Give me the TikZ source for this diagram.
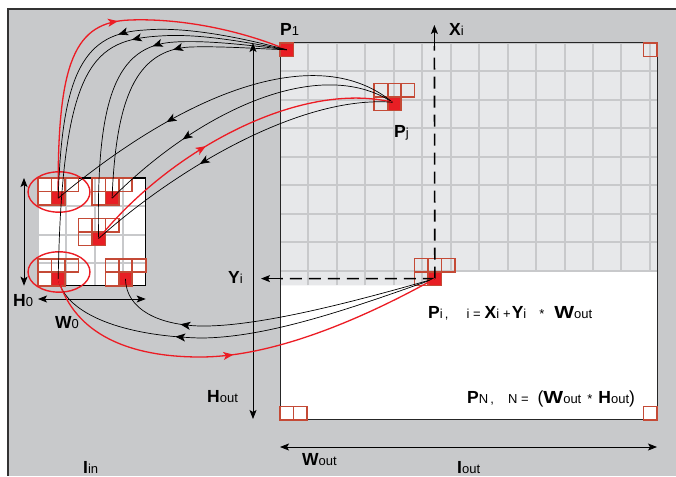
\documentclass[tikz,border=0pt]{standalone}
\usepackage{fontspec}
\setmainfont{Liberation Sans}
\usetikzlibrary{arrows.meta,decorations.markings}
\definecolor{bg}{RGB}{200,201,203}
\definecolor{cellgray}{RGB}{231,232,234}
\definecolor{gridline}{RGB}{200,201,203}
\definecolor{pxred}{RGB}{232,30,36}
\definecolor{pxedge}{RGB}{196,74,54}
\definecolor{wirered}{RGB}{236,28,36}
\newcommand{\lbl}[2]{{\fontsize{17.5}{17.5}\selectfont\bfseries #1}{\fontsize{13}{13}\selectfont #2}}
\newcommand{\sm}[1]{{\fontsize{13}{13}\selectfont #1}}
\newcommand{\wideW}{\scalebox{1.2}[1]{W}}
\tikzset{
  wire/.style={line width=.7pt},
  redwire/.style={line width=1.3pt,color=wirered},
  midarr/.style={postaction={decorate,decoration={markings,
    mark=at position #1 with {\arrow{Stealth[length=10pt,width=8pt,inset=2.5pt]}}}}},
  dimarr/.style={line width=.8pt,{Stealth[length=9pt,width=7pt,inset=2pt]}-{Stealth[length=9pt,width=7pt,inset=2pt]}},
  dashline/.style={line width=1.6pt,dash pattern=on 12pt off 7pt},
  pxbox/.style={draw=pxedge,line width=1.6pt},
  pxfill/.style={fill=pxred,draw=pxedge,line width=1.6pt},
  lab/.style={anchor=base west,inner sep=0pt},
  cluster/.pic={
    \draw[pxbox] (-1,-1) rectangle (2,0) (0,-1) -- (0,0) (1,-1) -- (1,0) (-1,0) rectangle (0,1);
    \filldraw[pxfill] (0,0) rectangle (1,1);
  },
}
\begin{document}
\begin{tikzpicture}[x=1pt,y=-1pt]
\useasboundingbox (0,0) rectangle (676,476);
\fill[bg] (8,9) rectangle (676,476);
\draw[line width=1.2pt,black!80] (676,9) -- (8,9) -- (8,476);

% output image, 28 x 28 pixels
\begin{scope}[shift={(280,43)},x=13.464pt,y=-13.464pt]
  \fill[white] (0,0) rectangle (28,28);
  \fill[cellgray] (0,0) -- (28,0) -- (28,17) -- (12,17) -- (12,18) -- (0,18) -- cycle;
  \begin{scope}
    \clip (0,0) -- (28,0) -- (28,17) -- (12,17) -- (12,18) -- (0,18) -- cycle;
    \draw[gridline,line width=2pt] (0,0) grid (28,18);
  \end{scope}
  \draw[line width=1pt,black!85] (0,0) rectangle (28,28);
  \filldraw[pxfill] (0,0) rectangle (1,1);
  \draw[pxbox] (27,0) rectangle (28,1) (0,27) rectangle (2,28) (1,27) -- (1,28) (27,27) rectangle (28,28);
  \pic at (8,4) {cluster};
  \pic at (11,17) {cluster};
  \coordinate (p1) at (0.5,0.5);
  \coordinate (pj) at (8.35,4.4);
  \coordinate (pi) at (11.5,17.5);
\end{scope}

% input image, 8 x 8 pixels
\begin{scope}[shift={(38,178)},x=13.464pt,y=-13.464pt]
  \fill[white] (0,0) rectangle (8,8);
  \draw[gridline,line width=2pt] (0,0) grid (8,8);
  \draw[line width=1.1pt] (0,0) -- (8,0) -- (8,8) -- (0,8);
  \foreach \c/\r in {1/1,5/1,4/4,1/7,6/7}
    \pic at (\c,\r) {cluster};
  \coordinate (c1) at (1.5,1.5);
  \coordinate (c2) at (5.5,1.5);
  \coordinate (c3) at (4.5,4.5);
  \coordinate (c4) at (1.5,7.5);
  \coordinate (c5) at (6.5,7.5);
  \draw[wirered,line width=1.4pt] (1.56,1.04) ellipse [x radius=2.3,y radius=1.5];
  \draw[wirered,line width=1.4pt] (1.56,6.98) ellipse [x radius=2.3,y radius=1.5];
\end{scope}

% index lines
\coordinate (xi0) at (434.4,46);
\coordinate (xi1) at (434.4,25);
\coordinate (yi0) at (281,278.6);
\coordinate (yi1) at (261,278.6);
\draw[dashline] (pi) -- (xi0);
\draw[dashline] (pi) -- (yi0);
\draw[line width=1pt,-{Stealth[length=9pt,width=7pt,inset=2pt]}] (xi0) -- (xi1);
\draw[line width=1pt,-{Stealth[length=9pt,width=7pt,inset=2pt]}] (yi0) -- (yi1);

% dimensions
\coordinate (h0a) at (24,178);
\coordinate (h0b) at (24,285.7);
\coordinate (w0a) at (38,299);
\coordinate (w0b) at (145.7,299);
\coordinate (hoa) at (253,43);
\coordinate (hob) at (253,419);
\coordinate (woa) at (280,447);
\coordinate (wob) at (657,447);
\draw[dimarr] (h0a) -- (h0b);
\draw[dimarr] (w0a) -- (w0b);
\draw[dimarr] (hoa) -- (hob);
\draw[dimarr] (woa) -- (wob);

% P1
\draw[redwire,midarr=.54] (c1) .. controls (57,60) and (75,22) .. (130,20) .. controls (185,18) and (245,32) .. (p1);
\draw[wire,midarr=.48] (p1) .. controls (250,40) and (190,26) .. (145,30) .. controls (85,33) and (62,70) .. (c1);
\draw[wire,midarr=.37] (p1) .. controls (250,43) and (200,33) .. (160,36) .. controls (95,40) and (62,60) .. (c4);
\draw[wire,midarr=.39] (p1) .. controls (255,46) and (210,40) .. (175,42) .. controls (115,45) and (96,100) .. (c3);
\draw[wire,midarr=.4] (p1) .. controls (260,49) and (225,46) .. (190,47) .. controls (135,50) and (116,100) .. (c2);
% Pj
\draw[wire,midarr=.645] (pj) .. controls (320,42) and (190,88) .. (c1);
\draw[wire,midarr=.71] (pj) .. controls (320,55) and (200,110) .. (c2);
\draw[redwire,midarr=.42] (c3) .. controls (170,150) and (300,80) .. (pj);
\draw[wire,midarr=.62] (pj) .. controls (300,95) and (175,170) .. (c3);
% Pi
\draw[wire,midarr=.77] (pi) .. controls (360,300) and (260,327) .. (200,326) .. controls (160,325) and (126,310) .. (c5);
\draw[wire,midarr=.66] (pi) .. controls (360,305) and (270,338) .. (200,338) .. controls (125,336) and (66,315) .. (c4);
\draw[redwire,midarr=.49] (c4) .. controls (75,335) and (130,357) .. (200,357) .. controls (280,357) and (375,312) .. (pi);

% labels
\node[lab] (lp1) at (280,36) {\lbl{P}{1}};
\node[lab] (lxi) at (449,36) {\lbl{X}{i}};
\node[lab] (lpj) at (394,137) {\lbl{P}{j}};
\node[lab] (lyi) at (228,283) {\lbl{Y}{i}};
\node[lab] (lho) at (207,402) {\lbl{H}{out}};
\node[lab] (lwo) at (302,465) {\lbl{W}{out}};
\node[lab] (lio) at (457,473) {\lbl{I}{out}};
\node[lab] (lii) at (83,473) {\lbl{I}{in}};
\node[lab] (lh0) at (13,306) {\lbl{H}{0}};
\node[lab] (lw0) at (55,328) {\lbl{W}{0}};
\node[lab] (lpi) at (428,318) {\lbl{P}{i\,,}\hspace{18pt}\sm{i =}\hspace{4pt}\lbl{X}{i}\hspace{4pt}\sm{+}\hspace{1pt}\lbl{Y}{i}\hspace{13pt}\sm{*}\hspace{10pt}\lbl{\wideW}{out}};
\node[lab] (lpn) at (467,403) {\lbl{P}{N\,,}\hspace{14pt}\sm{N =}\hspace{9pt}{\fontsize{17.5}{17.5}\selectfont(}\lbl{\wideW}{out}\hspace{6pt}\sm{*}\hspace{6pt}\lbl{H}{out}{\fontsize{17.5}{17.5}\selectfont)}};
\end{tikzpicture}
\end{document}
